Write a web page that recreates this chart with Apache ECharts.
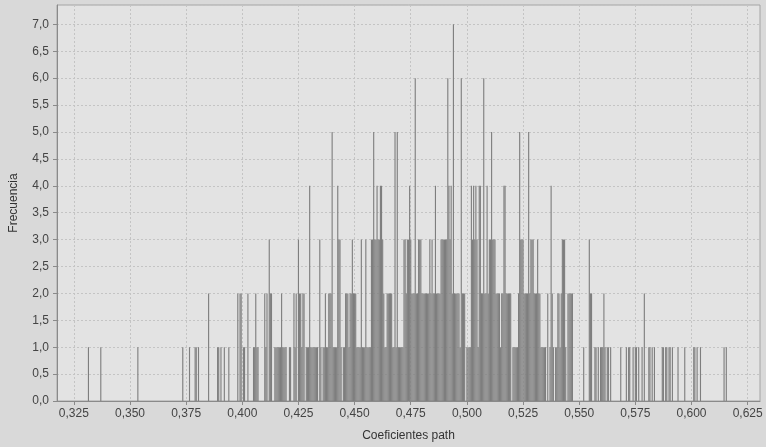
<!DOCTYPE html>
<html>
<head>
<meta charset="utf-8">
<script src="https://cdn.jsdelivr.net/npm/echarts@6/dist/echarts.min.js"></script>
<style>
html,body{margin:0;padding:0;background:#d9d9d9;}
#chart{width:766px;height:447px;}
</style>
</head>
<body>
<div id="chart"></div>
<script>
// Histogram bins (bin centre, bin width 0.0005) and frequencies
const binCenters = [
  0.3315,0.3370,0.3535,0.3735,0.3765,0.3790,0.3795,0.3805,0.3850,0.3890,
  0.3895,0.3905,0.3920,0.3940,0.3980,0.3990,0.3995,0.4005,0.4010,0.4025,
  0.4050,0.4055,0.4060,0.4065,0.4070,0.4100,0.4105,0.4110,0.4120,0.4125,
  0.4130,0.4145,0.4150,0.4155,0.4160,0.4165,0.4170,0.4175,0.4180,0.4185,
  0.4190,0.4195,0.4210,0.4215,0.4230,0.4235,0.4240,0.4250,0.4255,0.4260,
  0.4265,0.4270,0.4275,0.4285,0.4290,0.4295,0.4300,0.4305,0.4310,0.4315,
  0.4320,0.4325,0.4330,0.4335,0.4345,0.4350,0.4360,0.4365,0.4370,0.4375,
  0.4380,0.4385,0.4390,0.4395,0.4400,0.4405,0.4410,0.4415,0.4420,0.4425,
  0.4430,0.4435,0.4440,0.4450,0.4455,0.4460,0.4465,0.4470,0.4475,0.4480,
  0.4485,0.4490,0.4495,0.4500,0.4505,0.4510,0.4515,0.4520,0.4525,0.4530,
  0.4535,0.4540,0.4545,0.4550,0.4555,0.4560,0.4565,0.4570,0.4575,0.4580,
  0.4585,0.4590,0.4595,0.4600,0.4605,0.4610,0.4615,0.4620,0.4625,0.4630,
  0.4635,0.4640,0.4645,0.4650,0.4655,0.4660,0.4665,0.4670,0.4675,0.4680,
  0.4685,0.4690,0.4695,0.4700,0.4705,0.4710,0.4715,0.4720,0.4725,0.4730,
  0.4735,0.4740,0.4745,0.4750,0.4755,0.4760,0.4765,0.4770,0.4775,0.4780,
  0.4785,0.4790,0.4795,0.4800,0.4805,0.4810,0.4815,0.4820,0.4825,0.4830,
  0.4835,0.4840,0.4845,0.4850,0.4855,0.4860,0.4865,0.4870,0.4875,0.4880,
  0.4885,0.4890,0.4895,0.4900,0.4905,0.4910,0.4915,0.4920,0.4925,0.4930,
  0.4935,0.4940,0.4945,0.4950,0.4955,0.4960,0.4965,0.4970,0.4975,0.4980,
  0.4985,0.4990,0.5000,0.5005,0.5010,0.5015,0.5020,0.5025,0.5030,0.5035,
  0.5040,0.5045,0.5050,0.5055,0.5060,0.5065,0.5070,0.5075,0.5080,0.5085,
  0.5090,0.5095,0.5100,0.5105,0.5110,0.5115,0.5120,0.5125,0.5130,0.5135,
  0.5140,0.5145,0.5150,0.5155,0.5160,0.5165,0.5170,0.5175,0.5180,0.5185,
  0.5190,0.5195,0.5205,0.5210,0.5215,0.5220,0.5225,0.5230,0.5235,0.5240,
  0.5245,0.5250,0.5255,0.5260,0.5265,0.5270,0.5275,0.5280,0.5285,0.5290,
  0.5295,0.5300,0.5305,0.5310,0.5315,0.5320,0.5325,0.5330,0.5335,0.5340,
  0.5345,0.5350,0.5360,0.5370,0.5375,0.5380,0.5385,0.5395,0.5400,0.5405,
  0.5410,0.5415,0.5420,0.5425,0.5430,0.5435,0.5440,0.5450,0.5455,0.5460,
  0.5465,0.5470,0.5520,0.5545,0.5550,0.5555,0.5570,0.5575,0.5585,0.5595,
  0.5600,0.5605,0.5610,0.5615,0.5625,0.5630,0.5640,0.5685,0.5710,0.5720,
  0.5725,0.5740,0.5750,0.5755,0.5765,0.5780,0.5790,0.5810,0.5815,0.5825,
  0.5835,0.5870,0.5875,0.5885,0.5890,0.5900,0.5905,0.5915,0.5940,0.5970,
  0.6010,0.6015,0.6025,0.6040,0.6145,0.6155
];
const frequencies = [
  1,1,1,1,1,1,1,1,2,1,
  1,1,1,1,2,2,2,1,1,2,
  1,1,2,1,1,2,1,2,3,2,
  2,1,1,1,1,1,1,2,1,1,
  1,1,1,1,2,1,2,3,2,2,
  1,2,2,1,1,1,4,1,1,1,
  1,1,1,1,3,1,1,1,2,1,
  1,2,2,2,5,1,1,1,1,4,
  3,3,1,1,1,2,2,2,1,2,
  2,3,2,2,2,1,1,1,1,3,
  1,1,1,3,1,1,1,1,3,3,
  5,3,3,4,3,3,4,4,3,2,
  1,1,2,2,2,2,2,1,1,5,
  1,5,1,1,1,1,1,3,3,2,
  3,3,4,3,2,2,2,6,2,2,
  3,3,3,2,2,2,2,2,2,2,
  3,2,3,2,2,4,2,2,2,2,
  3,3,3,3,3,3,6,4,3,4,
  2,7,2,2,2,2,2,1,6,2,
  2,2,1,1,1,1,4,3,4,3,
  4,3,1,4,4,2,2,6,2,2,
  4,2,3,3,5,3,3,3,2,2,
  2,2,1,2,2,4,4,2,2,2,
  2,2,1,1,1,1,1,2,5,3,
  3,3,2,2,2,2,5,2,3,3,
  3,2,2,2,3,2,2,1,1,1,
  1,1,2,1,4,2,1,1,1,2,
  2,1,2,3,3,3,1,2,2,2,
  2,2,1,3,2,2,1,1,1,1,
  1,1,2,1,1,1,1,1,1,1,
  1,1,1,1,1,1,2,1,1,1,
  1,1,1,1,1,1,1,1,1,1,
  1,1,1,1,1,1
];
const xTickValues = [0.325,0.350,0.375,0.400,0.425,0.450,0.475,0.500,0.525,0.550,0.575,0.600,0.625];
const binWidth = 0.0005;
const xTitle = 'Coeficientes path';
const yTitle = 'Frecuencia';

const seriesData = binCenters.map((c, i) => [c, frequencies[i]]);
const fmt = (v, d) => v.toFixed(d).replace('.', ',');

const chart = echarts.init(document.getElementById('chart'), null, {renderer: 'canvas'});
chart.setOption({
  backgroundColor: '#d9d9d9',
  animation: false,
  grid: {
    left: 55, right: 6, top: 5, bottom: 46,
    show: true, backgroundColor: '#e3e3e3', borderColor: '#a4a4a4', borderWidth: 1
  },
  xAxis: {
    type: 'value', min: 0.3175, max: 0.6305,
    name: xTitle, nameLocation: 'middle', nameGap: 29,
    nameTextStyle: {fontFamily: 'Liberation Sans', fontSize: 12, color: '#333'},
    axisLine: {show: true, lineStyle: {color: '#8a8a8a'}},
    axisTick: {show: true, length: 4, lineStyle: {color: '#8a8a8a'}, customValues: xTickValues},
    axisLabel: {customValues: xTickValues, fontFamily: 'Liberation Sans', fontSize: 12, color: '#444', margin: 7,
      formatter: v => fmt(v, 3)},
    splitLine: {show: true, lineStyle: {color: '#c4c4c4', type: [2, 2]}}
  },
  yAxis: {
    type: 'value', min: 0, max: 7.36, interval: 0.5,
    name: yTitle, nameLocation: 'middle', nameGap: 37,
    nameTextStyle: {fontFamily: 'Liberation Sans', fontSize: 12, color: '#333'},
    axisLine: {show: true, lineStyle: {color: '#8a8a8a'}},
    axisTick: {show: true, length: 4, lineStyle: {color: '#8a8a8a'}},
    axisLabel: {showMaxLabel: false, fontFamily: 'Liberation Sans', fontSize: 12, color: '#444', margin: 8,
      formatter: v => fmt(v, 1)},
    splitLine: {show: true, lineStyle: {color: '#c4c4c4', type: [2, 2]}}
  },
  series: [{
    type: 'custom',
    data: seriesData,
    clip: true,
    renderItem: function (params, api) {
      const x = api.value(0), y = api.value(1);
      const p0 = api.coord([x - binWidth / 2, y]);
      const p1 = api.coord([x + binWidth / 2, 0]);
      return {
        type: 'rect',
        shape: {x: p0[0], y: p0[1], width: p1[0] - p0[0], height: p1[1] - p0[1]},
        style: {fill: '#7e7e7e'}
      };
    }
  }]
});
</script>
</body>
</html>
